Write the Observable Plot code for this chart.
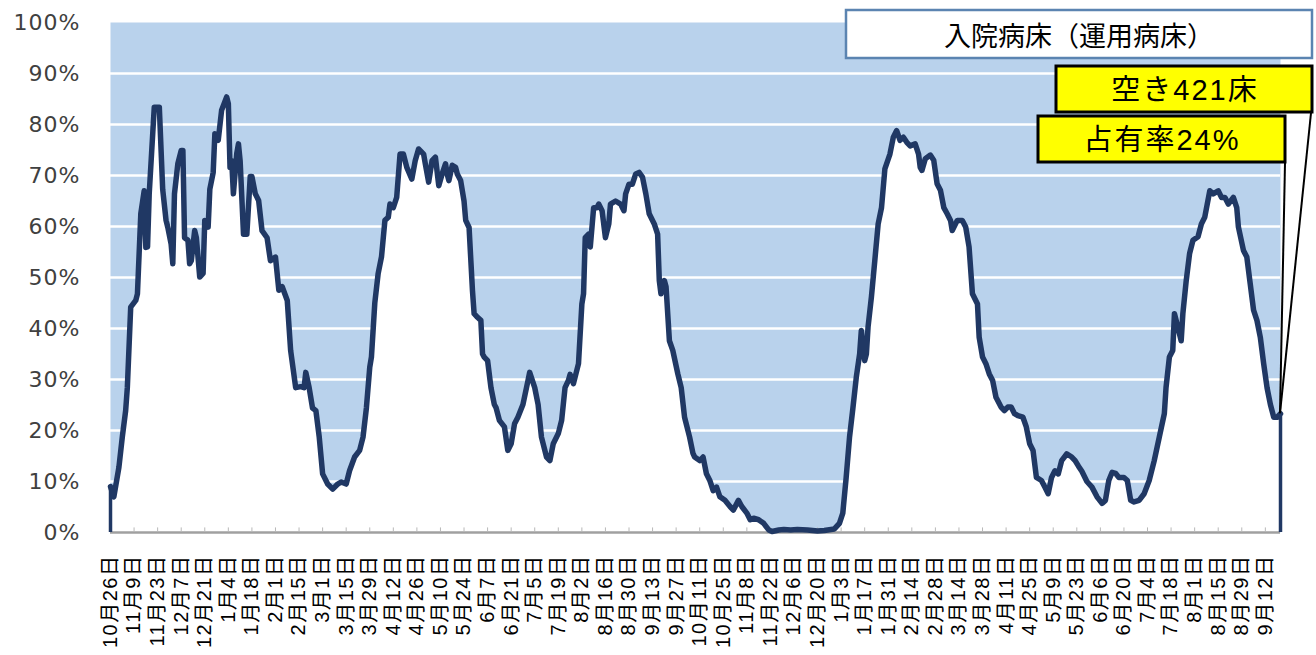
<!DOCTYPE html>
<html>
<head>
<meta charset="utf-8">
<script src="https://cdn.jsdelivr.net/npm/d3@7"></script>
<script src="https://cdn.jsdelivr.net/npm/@observablehq/plot@0.6"></script>
<style>
  html, body { margin: 0; padding: 0; background: #fff; }
  #chart { position: relative; width: 1316px; height: 655px; }
</style>
</head>
<body>
<div id="chart"></div>
<script>
// Days since the first category (10月26日)
const days = [0,2,5,7,9,10,12,15,16,18,20,21,22,23,26,29,31,33,34,36,37,38,40,42,43,44,46,47,48,50,51,53,55,56,58,59,61,62,64,66,69,70,71,72,73,75,76,77,79,81,83,84,86,88,90,93,95,98,100,102,105,107,110,113,115,116,118,120,122,124,126,129,132,135,137,140,142,145,148,150,152,154,155,157,159,161,163,165,166,168,170,172,174,176,179,181,183,186,187,189,191,193,195,197,199,200,201,203,205,206,208,210,211,213,215,216,218,220,221,222,224,226,228,229,231,234,236,238,240,242,245,248,249,252,254,256,259,261,263,266,268,270,272,273,275,278,280,281,282,284,285,287,289,290,292,294,296,297,300,303,305,306,308,310,312,314,316,318,320,323,325,326,327,329,330,332,334,337,339,341,344,346,347,350,352,354,356,358,360,362,365,368,370,373,375,378,380,382,385,388,391,393,397,400,404,408,414,420,424,430,433,435,437,439,441,443,445,446,448,449,450,452,454,456,458,460,463,465,467,469,471,473,475,478,480,481,482,484,487,489,491,493,495,497,499,500,503,506,508,510,512,515,516,518,520,522,524,526,529,531,533,535,537,539,542,544,546,548,550,553,555,557,559,561,563,565,568,571,573,575,577,580,583,586,589,591,593,595,597,599,602,604,606,608,611,614,617,620,623,626,627,629,631,632,634,636,637,639,641,643,646,648,650,653,655,658,660,662,664,667,669,670,673,675,677,679,681,683,685,687,689,691,693,695];
// Bed occupancy (%)
const values = [9,7,12.8,18.7,23.9,28.4,44.2,45.5,46.8,62.5,67,55.9,56,66.4,83.4,83.4,67.3,61.2,59.9,56.6,52.7,66.4,72.3,74.9,74.9,57.8,57.3,52.7,53.3,59.2,57.8,50.1,50.8,61.2,59.9,67.3,70.6,78.2,76.9,82.8,85.4,84.1,71.6,72.9,66.4,74.3,76.2,72.9,58.5,58.5,69.8,69.8,66.4,65.1,59.2,57.8,53.3,54,47.5,48.2,45.5,35.7,28.4,28.6,28.4,31.4,28.4,24.4,23.9,18.7,11.5,9.5,8.5,9.5,9.9,9.5,12.1,14.8,16.1,18.7,24.4,32.4,34.4,45,50.8,54.1,61.2,61.8,64.4,63.7,65.7,74.2,74.2,71.6,69.3,72.9,75.2,74.2,72.3,68.7,72.9,73.6,68,70.3,72.3,70.3,69,72,71.6,70.3,69,65,61.2,59.8,47.5,42.9,42.2,41.6,35,34.4,33.7,28.4,25.1,24.5,22,20.7,16.1,17.4,21.3,22.6,25.1,29.8,31.4,28.4,25.1,18.7,14.8,14.1,17.4,19.4,22,28.4,29.8,31,29.2,33.1,44.8,46.8,57.8,58.5,56,63.7,63.7,64.4,63.1,57.8,60.5,64.4,65,64.4,63.1,66.4,68.3,68.3,70.3,70.6,69.7,66.4,62.5,60.5,58.5,49.4,46.8,49.4,48.2,37.6,35.7,31.1,28.4,22.6,18.7,15.5,14.8,14.1,14.8,11.5,10.2,8.2,8.9,7,6.3,5.1,4.4,6.3,5.1,3.8,2.5,2.8,2.5,1.8,0.5,0.2,0.5,0.6,0.5,0.6,0.5,0.3,0.4,0.7,1.8,3.8,10.8,18.7,24.4,30.4,35,39.6,33.7,35,40.3,46.2,53.3,60.5,63.7,71.3,74.2,77.5,78.8,76.9,77.5,76.5,75.8,76.2,74.2,71.6,71,73.3,74,73,68.4,67.1,63.7,62.5,61.2,59.2,61.2,61.2,59.9,56,46.8,44.8,38.3,34.4,33.1,31.1,29.8,26.5,24.6,23.9,24.6,24.6,23.3,22.9,22.6,20.7,17.4,16.1,10.8,10.2,8.9,7.6,10.8,12.1,11.5,14.1,15.4,14.8,14.1,13,12,10,8.9,7,5.7,6.3,10.2,11.8,11.6,10.8,10.8,10.2,6.3,6,6.3,7.6,10.2,14.1,18.7,23.3,28.4,34.4,35.7,42.9,40.3,37.6,42.9,49.4,54.7,57.3,58,60.5,61.8,67,66.4,67,65.7,65.7,64.4,65.7,63.7,59.9,55.3,54,48.8,43.6,41.6,38.3,33.1,28.4,25.1,22.6,22.6,23.3];
// Tick labels, one every 14 days
const tickLabels = ["10月26日","11月9日","11月23日","12月7日","12月21日","1月4日","1月18日","2月1日","2月15日","3月1日","3月15日","3月29日","4月12日","4月26日","5月10日","5月24日","6月7日","6月21日","7月5日","7月19日","8月2日","8月16日","8月30日","9月13日","9月27日","10月11日","10月25日","11月8日","11月22日","12月6日","12月20日","1月3日","1月17日","1月31日","2月14日","2月28日","3月14日","3月28日","4月11日","4月25日","5月9日","5月23日","6月6日","6月20日","7月4日","7月18日","8月1日","8月15日","8月29日","9月12日"];
const yTicks = [0,10,20,30,40,50,60,70,80,90,100];
const title = "入院病床（運用病床）";
const calloutVacant = "空き421床";
const calloutRate = "占有率24%";

const data = days.map((d, i) => ({day: d, value: values[i]}));
const tickDays = tickLabels.map((_, i) => i * 14);
const ends = [data[0], data[data.length - 1]];

const navy = "#203864";
const chart = Plot.plot({
  width: 1316,
  height: 655,
  marginLeft: 110,
  marginRight: 36,
  marginTop: 22,
  marginBottom: 123,
  style: {background: "#fff", overflow: "visible"},
  x: {domain: [0, 695], label: null},
  y: {domain: [0, 100], label: null},
  marks: [
    Plot.frame({fill: "#b9d2ec", stroke: null}),
    Plot.gridY([10,20,30,40,50,60,70,80,90], {stroke: "#fff", strokeOpacity: 1, strokeWidth: 2.5}),
    Plot.areaY(data, {x: "day", y: "value", fill: "#fff"}),
    Plot.ruleY([0], {stroke: "#a0a0a0", strokeWidth: 2.5}),
    Plot.ruleX(tickDays, {x: d => d, y1: 0, y2: 0.9, stroke: "#b8b8b8", strokeWidth: 1}),
    Plot.ruleX(ends, {x: "day", y1: 0, y2: "value", stroke: navy, strokeWidth: 3.5}),
    Plot.lineY(data, {x: "day", y: "value", stroke: navy, strokeWidth: 5.5, strokeLinejoin: "round", strokeLinecap: "round"}),
    Plot.axisY({ticks: yTicks, tickFormat: d => d + "%", tickSize: 0, tickPadding: 30, fontSize: 22, fill: "#404040", fontFamily: "DejaVu Sans", label: null}),
    Plot.axisX({ticks: tickDays, tickFormat: d => tickLabels[Math.round(d / 14)], tickRotate: -90, tickSize: 0, tickPadding: 22, fontSize: 20, fill: "#000", fontFamily: "Liberation Sans, 'Noto Sans CJK JP', sans-serif", label: null})
  ]
});
document.getElementById("chart").appendChild(chart);

const svg = d3.select(chart);
svg.selectAll('g[aria-label="x-axis tick label"] text').style("letter-spacing", "1.5px");
svg.selectAll('g[aria-label="y-axis tick label"] text').style("letter-spacing", "1px");

const sx = chart.scale("x"), sy = chart.scale("y");
const last = data[data.length - 1];
const ex = sx.apply(last.day), ey = sy.apply(last.value);
const g = svg.append("g");
const cjk = "'Noto Sans CJK JP', sans-serif";

// title box
g.append("rect").attr("x", 846).attr("y", 10).attr("width", 466).attr("height", 48)
  .attr("fill", "#fff").attr("stroke", "#5b84b1").attr("stroke-width", 2.5);
g.append("text").attr("x", 1079).attr("y", 34).attr("text-anchor", "middle").attr("dominant-baseline", "central")
  .attr("font-family", cjk).attr("font-size", 27).attr("fill", "#000").text(title);

// callout lines
g.append("line").attr("x1", 1311).attr("y1", 113).attr("x2", ex).attr("y2", ey).attr("stroke", "#000").attr("stroke-width", 2);
g.append("line").attr("x1", 1285).attr("y1", 163).attr("x2", ex).attr("y2", ey).attr("stroke", "#000").attr("stroke-width", 2);

// callout boxes
g.append("rect").attr("x", 1056).attr("y", 66).attr("width", 256).attr("height", 46)
  .attr("fill", "#ffff00").attr("stroke", "#000").attr("stroke-width", 3);
g.append("text").attr("x", 1185).attr("y", 90).attr("text-anchor", "middle").attr("dominant-baseline", "central")
  .attr("font-family", "Liberation Sans, " + cjk).attr("font-size", 29).style("letter-spacing", "2px").attr("fill", "#000").text(calloutVacant);
g.append("rect").attr("x", 1038).attr("y", 116).attr("width", 247).attr("height", 46)
  .attr("fill", "#ffff00").attr("stroke", "#000").attr("stroke-width", 3);
g.append("text").attr("x", 1162).attr("y", 140).attr("text-anchor", "middle").attr("dominant-baseline", "central")
  .attr("font-family", "Liberation Sans, " + cjk).attr("font-size", 29).style("letter-spacing", "2px").attr("fill", "#000").text(calloutRate);
</script>
</body>
</html>
